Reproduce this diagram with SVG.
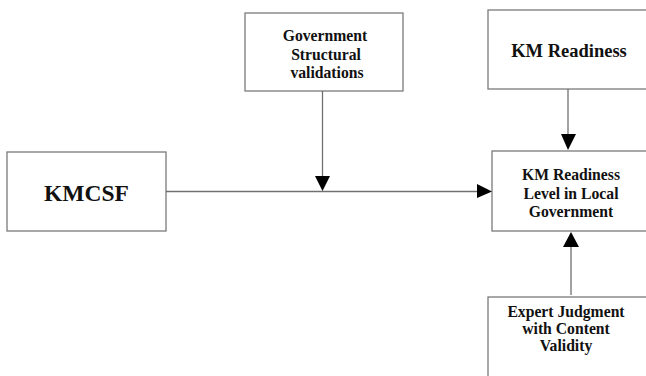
<svg xmlns="http://www.w3.org/2000/svg" width="646" height="376" viewBox="0 0 646 376">
<style>
.box{fill:#fff;stroke:#7a7a7a;stroke-width:1.3}
.t{font-family:"Liberation Serif","Times New Roman",serif;font-weight:bold;fill:#111;text-anchor:middle}
.ln{stroke:#707070;stroke-width:1.3;fill:none}
.ah{fill:#000}
</style>
<rect width="646" height="376" fill="#fff"/>
<g id="kmcsf">
<rect class="box" x="7" y="152" width="159" height="79"/>
<text class="t" x="86.5" y="201" font-size="23.5">KMCSF</text>
</g>
<g id="gov">
<rect class="box" x="245" y="13" width="158" height="78"/>
<text class="t" x="325" y="41" font-size="15.7">Government</text>
<text class="t" x="326" y="59.5" font-size="15.7">Structural</text>
<text class="t" x="327" y="78" font-size="15.7">validations</text>
</g>
<g id="kmr">
<rect class="box" x="488" y="10" width="170" height="79"/>
<text class="t" x="569" y="57" font-size="18.5">KM Readiness</text>
</g>
<g id="level">
<rect class="box" x="492" y="151" width="166" height="80"/>
<text class="t" x="571" y="180" font-size="15.7">KM Readiness</text>
<text class="t" x="571" y="198.5" font-size="15.7">Level in Local</text>
<text class="t" x="571" y="216.5" font-size="15.7">Government</text>
</g>
<g id="expert">
<rect class="box" x="488" y="297" width="170" height="90"/>
<text class="t" x="566" y="317" font-size="15.7">Expert Judgment</text>
<text class="t" x="566" y="334" font-size="15.7">with Content</text>
<text class="t" x="566" y="351" font-size="15.7">Validity</text>
</g>
<g id="connectors">
<line class="ln" x1="166" y1="191.5" x2="478" y2="191.5"/>
<polygon class="ah" points="477,184 492,191.5 477,198"/>
<line class="ln" x1="322.5" y1="91" x2="322.5" y2="177"/>
<polygon class="ah" points="315,176 330,176 322.5,191"/>
<line class="ln" x1="568" y1="89" x2="568" y2="135"/>
<polygon class="ah" points="561,134 576,134 568,150"/>
<line class="ln" x1="571" y1="246" x2="571" y2="295"/>
<polygon class="ah" points="563,247 579,247 571,232"/>
</g>
</svg>
